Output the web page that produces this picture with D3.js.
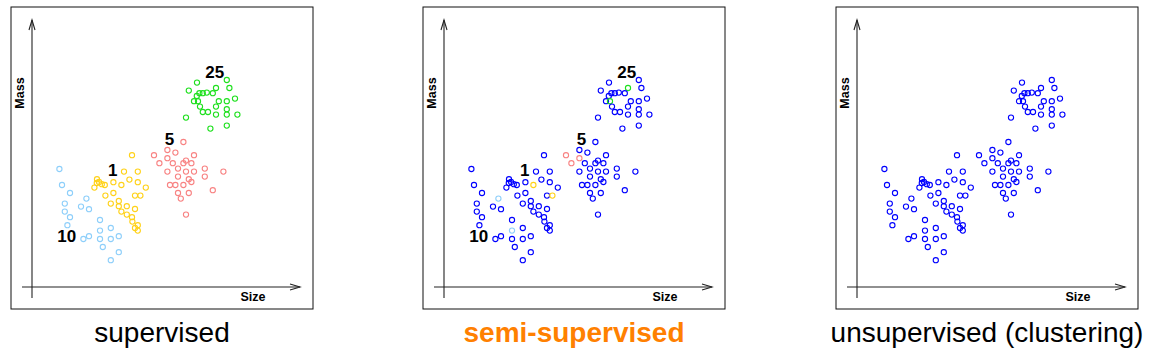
<!DOCTYPE html>
<html>
<head>
<meta charset="utf-8">
<script src="https://cdn.jsdelivr.net/npm/d3@7"></script>
<style>
  body { margin: 0; background: #fff; }
  svg { display: block; font-family: "Liberation Sans", Arial, sans-serif; }
</style>
</head>
<body>
<svg id="chart" width="1159" height="361"></svg>
<script>
// cluster data, [size, mass]
var lightblue = [[13.7,59.0],[15.0,51.0],[19.0,47.0],[16.4,41.7],[16.4,37.7],[19.0,34.9],[17.7,30.9],
  [27.2,44.2],[24.5,40.2],[28.5,38.9],[34.0,33.5],[34.0,28.2],[39.4,29.5],[25.7,24.0],[28.5,25.4],
  [34.0,24.0],[39.4,24.0],[43.4,25.4],[35.4,20.0],[43.4,17.4],[39.4,13.4]]
var yellow = [[50.0,65.9],[46.0,57.7],[52.9,57.7],[48.7,53.7],[52.9,52.4],[56.9,49.7],[40.7,52.4],
  [44.7,51.0],[32.5,53.9],[33.5,52.5],[32.4,52.0],[34.9,51.4],[36.4,51.0],[31.2,49.7],[40.7,47.0],
  [36.7,45.7],[51.5,45.7],[54.2,45.7],[43.4,43.0],[39.4,41.7],[43.4,40.4],[47.4,40.4],[51.5,39.0],
  [44.7,37.7],[47.4,36.2],[50.0,34.9],[50.2,32.7],[52.9,30.9],[51.5,29.5],[52.9,28.2]]
var red = [[75.7,72.5],[61.0,65.9],[67.7,68.5],[71.7,67.2],[81.0,65.9],[67.7,64.4],[63.7,61.9],
  [70.4,61.9],[75.7,61.9],[77.0,63.2],[79.7,61.9],[73.0,59.2],[67.7,57.7],[77.0,57.7],[81.0,57.7],
  [86.4,59.2],[86.4,55.2],[95.7,57.7],[73.0,55.2],[78.4,53.9],[79.7,52.5],[75.7,51.0],[69.0,51.0],
  [71.7,51.0],[90.4,48.4],[73.0,47.0],[78.4,47.0],[74.4,44.2],[77.0,36.2]]
var green = [[82.5,102.2],[97.4,103.5],[78.4,98.2],[92.0,99.5],[98.7,99.5],[83.7,96.9],[85.4,96.9],
  [87.4,97.2],[90.4,96.9],[82.4,95.5],[81.0,92.9],[83.0,92.9],[93.4,92.9],[97.4,92.9],[101.5,94.2],
  [84.0,90.2],[92.0,90.2],[97.4,88.9],[85.4,87.5],[88.0,87.5],[92.0,86.2],[97.4,86.2],[102.7,86.2],
  [77.0,84.7],[97.4,80.7],[89.2,79.2]]

// points that keep their label in the semi-supervised panel
var labeledLightblue = [7, 11]
var labeledYellow = [7, 17]
var labeledRed = [1, 5, 6]
var labeledGreen = [3, 11]

var clusterNames = ["10", "1", "5", "25"]
var clusterLabelPos = [[17.4,22.4],[40.4,55.5],[68.8,70.9],[91.4,104.4]]
var captions = ["supervised", "semi-supervised", "unsupervised (clustering)"]

var clusters = [
  {pts: lightblue, color: "#8ecffa", labeled: labeledLightblue},
  {pts: yellow, color: "#ffd21a", labeled: labeledYellow},
  {pts: red, color: "#f88383", labeled: labeledRed},
  {pts: green, color: "#1ee01e", labeled: labeledGreen}
]

var svg = d3.select("#chart")
var panelLeft = [11, 423, 836]
var boxW = 302, boxH = 302

var x = d3.scaleLinear().domain([0, 134]).range([21, 289])
var y = d3.scaleLinear().domain([0, 133.5]).range([280, 13])

captions.forEach(function (cap, p) {
    var g = svg.append("g").attr("transform", "translate(" + panelLeft[p] + ",7)")

    g.append("rect")
        .attr("x", 0).attr("y", 0)
        .attr("width", boxW).attr("height", boxH)
        .attr("fill", "none").attr("stroke", "#111").attr("stroke-width", 1)

    // axes with open arrow heads
    var ax = g.append("g").attr("stroke", "#222").attr("stroke-width", 1.1).attr("fill", "none")
    var x0 = x.range()[0], x1 = x.range()[1], y0 = y.range()[0], y1 = y.range()[1]
    ax.append("line").attr("x1", x0 - 10).attr("x2", x1).attr("y1", y0).attr("y2", y0)
    ax.append("line").attr("x1", x0).attr("x2", x0).attr("y1", y0 + 11).attr("y2", y1)
    ax.append("path").attr("d", "M" + (x1 - 10) + "," + (y0 - 3) + "L" + x1 + "," + y0 + "L" + (x1 - 10) + "," + (y0 + 3))
    ax.append("path").attr("d", "M" + (x0 - 3) + "," + (y1 + 10) + "L" + x0 + "," + y1 + "L" + (x0 + 3) + "," + (y1 + 10))

    g.append("text")
        .attr("transform", "translate(" + (x0 - 12) + ",86) rotate(-90)")
        .attr("text-anchor", "middle").attr("dy", "0.35em")
        .attr("font-weight", "bold").attr("font-size", 12.5)
        .text("Mass")
    g.append("text")
        .attr("x", 242).attr("y", 294)
        .attr("text-anchor", "middle")
        .attr("font-weight", "bold").attr("font-size", 12.5)
        .text("Size")

    clusters.forEach(function (c) {
        g.append("g").selectAll("circle")
            .data(c.pts)
            .enter().append("circle")
            .attr("cx", function (d) { return x(d[0]) })
            .attr("cy", function (d) { return y(d[1]) })
            .attr("r", 2.6)
            .attr("fill", "none")
            .attr("stroke-width", 1.1)
            .attr("stroke", function (d, i) {
                if (p == 0) return c.color
                if (p == 1 && c.labeled.indexOf(i) >= 0) return c.color
                return "#0000ff"
            })
    })

    if (p < 2) {
        g.selectAll(".clab")
            .data(clusterNames)
            .enter().append("text")
            .attr("x", function (d, i) { return x(clusterLabelPos[i][0]) })
            .attr("y", function (d, i) { return y(clusterLabelPos[i][1]) })
            .attr("text-anchor", "middle")
            .attr("font-weight", "bold").attr("font-size", 17)
            .text(function (d) { return d })
    }

    svg.append("text")
        .attr("x", panelLeft[p] + boxW / 2)
        .attr("y", 342)
        .attr("text-anchor", "middle")
        .attr("font-size", 28)
        .attr("font-weight", p == 1 ? "bold" : "normal")
        .attr("fill", p == 1 ? "#ff8000" : "#000")
        .text(cap)
})
</script>
</body>
</html>
